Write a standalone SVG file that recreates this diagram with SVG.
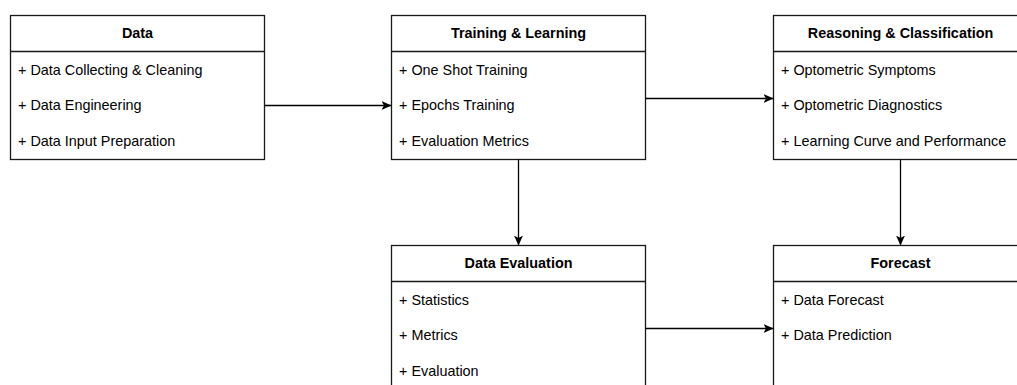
<svg xmlns="http://www.w3.org/2000/svg" width="1017" height="385" viewBox="0 0 1017 385">
  <style>
    .box { fill: #ffffff; stroke: #1a1a1a; stroke-width: 1.3; }
    .sep { stroke: #1a1a1a; stroke-width: 1.3; fill: none; }
    .title { font-family: "Liberation Sans", Arial, sans-serif; font-size: 14.4px; font-weight: bold; fill: #000; text-anchor: middle; }
    .item { font-family: "Liberation Sans", Arial, sans-serif; font-size: 14.4px; fill: #000; }
    .edge { stroke: #000; stroke-width: 1.3; fill: none; marker-end: url(#arrow); }
  </style>
  <defs>
    <marker id="arrow" viewBox="0 0 10 10" refX="10" refY="5" markerWidth="10" markerHeight="10" markerUnits="userSpaceOnUse" orient="auto">
      <path d="M0,0.5 L10,5 L0,9.5 L2.5,5 Z" fill="#000"/>
    </marker>
  </defs>
  <rect width="1017" height="385" fill="#ffffff"/>

  <!-- Data -->
  <g id="data">
    <rect class="box" x="10.5" y="15.5" width="254" height="144"/>
    <line class="sep" x1="10.5" y1="51.5" x2="264.5" y2="51.5"/>
    <text class="title" x="137.5" y="37.5">Data</text>
    <text class="item" x="18" y="74.5">+ Data Collecting &amp; Cleaning</text>
    <text class="item" x="18" y="110">+ Data Engineering</text>
    <text class="item" x="18" y="146">+ Data Input Preparation</text>
  </g>

  <!-- Training & Learning -->
  <g id="training">
    <rect class="box" x="391.5" y="15.5" width="254" height="144"/>
    <line class="sep" x1="391.5" y1="51.5" x2="645.5" y2="51.5"/>
    <text class="title" x="518.5" y="37.5">Training &amp; Learning</text>
    <text class="item" x="399" y="74.5">+ One Shot Training</text>
    <text class="item" x="399" y="110">+ Epochs Training</text>
    <text class="item" x="399" y="146">+ Evaluation Metrics</text>
  </g>

  <!-- Reasoning & Classification -->
  <g id="reasoning">
    <rect class="box" x="773.5" y="15.5" width="254" height="144"/>
    <line class="sep" x1="773.5" y1="51.5" x2="1027.5" y2="51.5"/>
    <text class="title" x="900.5" y="37.5">Reasoning &amp; Classification</text>
    <text class="item" x="781" y="74.5">+ Optometric Symptoms</text>
    <text class="item" x="781" y="110">+ Optometric Diagnostics</text>
    <text class="item" x="781" y="146">+ Learning Curve and Performance</text>
  </g>

  <!-- Data Evaluation -->
  <g id="evaluation">
    <rect class="box" x="391.5" y="245.5" width="254" height="180"/>
    <line class="sep" x1="391.5" y1="281.5" x2="645.5" y2="281.5"/>
    <text class="title" x="518.5" y="267.5">Data Evaluation</text>
    <text class="item" x="399" y="304.5">+ Statistics</text>
    <text class="item" x="399" y="340">+ Metrics</text>
    <text class="item" x="399" y="376">+ Evaluation</text>
  </g>

  <!-- Forecast -->
  <g id="forecast">
    <rect class="box" x="773.5" y="245.5" width="254" height="180"/>
    <line class="sep" x1="773.5" y1="281.5" x2="1027.5" y2="281.5"/>
    <text class="title" x="900.5" y="267.5">Forecast</text>
    <text class="item" x="781" y="304.5">+ Data Forecast</text>
    <text class="item" x="781" y="340">+ Data Prediction</text>
  </g>

  <!-- Connectors -->
  <g id="connectors">
    <path class="edge" d="M264.5,105.5 L391.5,105.5"/>
    <path class="edge" d="M645.5,98.5 L773.5,98.5"/>
    <path class="edge" d="M518.5,159.5 L518.5,245.5"/>
    <path class="edge" d="M900.5,159.5 L900.5,245.5"/>
    <path class="edge" d="M645.5,328.5 L773.5,328.5"/>
  </g>
</svg>
